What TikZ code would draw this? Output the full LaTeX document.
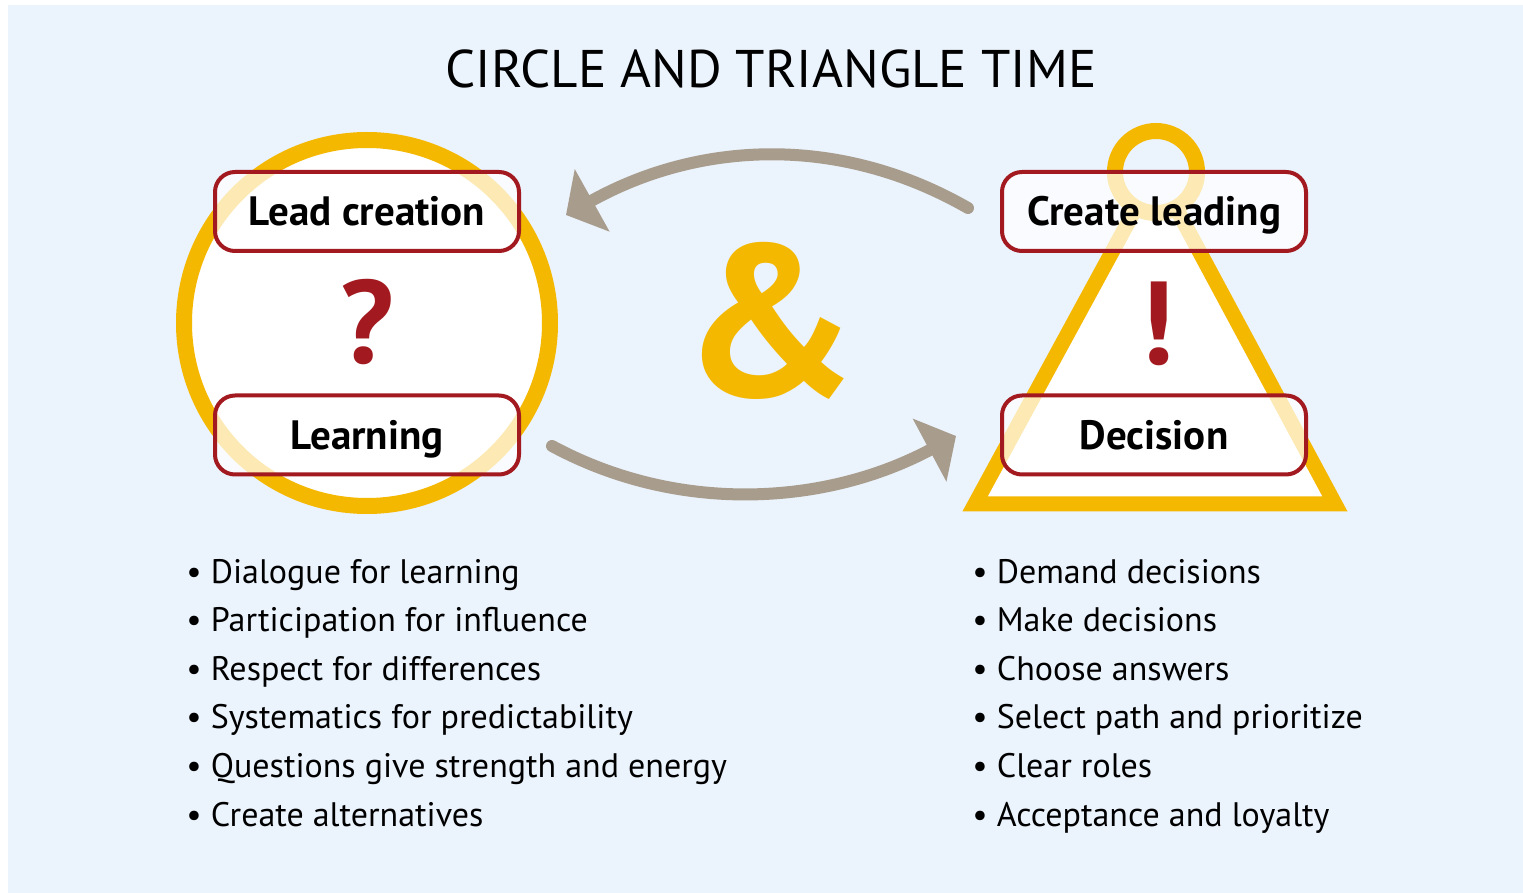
\documentclass[tikz,border=0pt]{standalone}
\usepackage{fontspec}
\setmainfont{PT Sans}
\usetikzlibrary{arrows.meta}

\definecolor{bgblue}{HTML}{EBF3FC}
\definecolor{gold}{HTML}{F5B800}
\definecolor{darkred}{HTML}{A2191F}
\definecolor{arrowgray}{HTML}{A89C8D}

\begin{document}
\begin{tikzpicture}[x=0.5pt,y=-0.5pt,
    labelbox/.style={draw=darkred, line width=2pt, rounded corners=10pt, fill=white, fill opacity=0.7, text opacity=1,
        minimum width=152pt, minimum height=39.5pt, inner sep=0pt, text height=14.3pt, text depth=0pt,
        font=\bfseries\fontsize{20.5}{24}\selectfont},
    sign/.style={text=darkred, inner sep=0pt, text height=41pt, text depth=0pt, font=\bfseries\fontsize{59}{62}\selectfont},
    item/.style={anchor=base west, inner sep=0pt, font=\fontsize{17}{20}\selectfont},
    cyclearrow/.style={arrowgray, line width=6pt, line cap=round, -{Triangle[length=15pt,width=35pt]}}]
    % 背景
    \useasboundingbox (0,0) rectangle (1523,893);
    \fill[bgblue] (8,5) rectangle (1523,893);

    \node[inner sep=0pt, text height=18.5pt, text depth=0pt, font=\fontsize{26.5}{30}\selectfont] (title) at (771,69) {CIRCLE AND TRIANGLE TIME};

% 圆
    \draw[gold, line width=8pt, fill=white] (367,323) circle (183);
    \node[labelbox] (lead) at (367,211.5) {Lead creation};
    \node[labelbox] (learn) at (367,435) {Learning};
    \node[sign] (question) at (367,322.5) {?};

% 三角形
    \fill[white] (975,504) -- (1335,504) -- (1156,172) -- cycle;
    \draw[gold, line width=7.5pt, line join=miter] (1136,208) -- (975,504) -- (1335,504) -- (1176,208);
    \draw[gold, line width=8pt, fill=bgblue] (1156,172) circle (41);
    \node[labelbox] (create) at (1154,211.5) {Create leading};
    \node[labelbox] (decision) at (1154,435) {Decision};
    \node[sign] (exclaim) at (1157,323.5) {!};

    \node[text=gold, inner sep=0pt, text height=74pt, text depth=0pt, font=\bfseries\fontsize{108}{112}\selectfont] (amp) at (770,323) {\&};

% 箭头
    \coordinate (topstart) at (968,208);
    \coordinate (toptip) at (566,215);
    \coordinate (botstart) at (552,446);
    \coordinate (bottip) at (956,436);
    \draw[cyclearrow] (topstart) .. controls (837,133) and (697,142) .. (toptip);
    \draw[cyclearrow] (botstart) .. controls (680,515) and (827,505) .. (bottip);

% 列表
    \foreach \txt [count=\i] in {Dialogue for learning, Participation for influence, Respect for differences,
        Systematics for predictability, Questions give strength and energy, Create alternatives}
        \node[item] (left\i) at (186,{583+48.6*(\i-1)}) {\textbullet\ \txt};
    \foreach \txt [count=\i] in {Demand decisions, Make decisions, Choose answers,
        Select path and prioritize, Clear roles, Acceptance and loyalty}
        \node[item] (right\i) at (972,{583+48.6*(\i-1)}) {\textbullet\ \txt};

\end{tikzpicture}
\end{document}
